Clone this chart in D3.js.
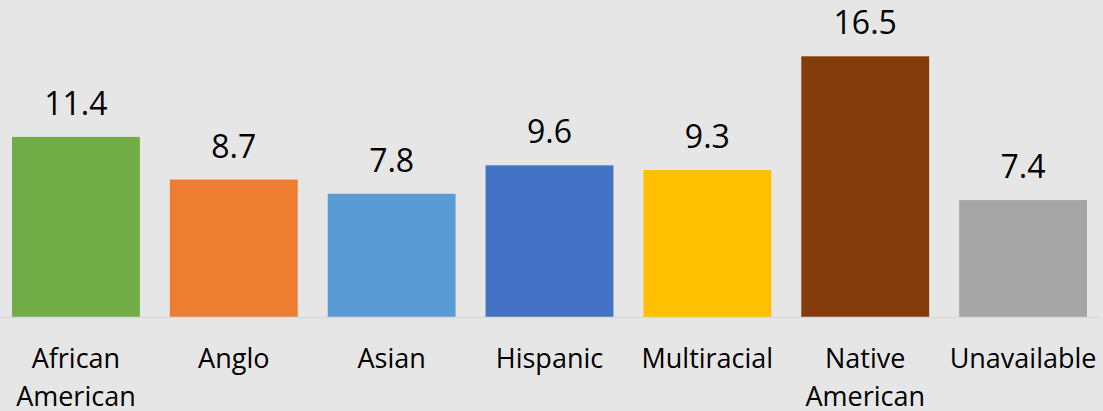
<!DOCTYPE html>
<html>
<head>
<meta charset="utf-8">
<script src="https://cdn.jsdelivr.net/npm/d3@7"></script>
<style>
  html, body { margin: 0; padding: 0; background: #e7e6e6; }
  svg { display: block; }
  text { font-family: Carlito, Calibri, "Open Sans", sans-serif; fill: #000; }
</style>
</head>
<body>
<svg id="chart" width="1103" height="411"></svg>
<script>
const categories = ["African American", "Anglo", "Asian", "Hispanic", "Multiracial", "Native American", "Unavailable"];
const values = [11.4, 8.7, 7.8, 9.6, 9.3, 16.5, 7.4];
const colors = ["#70ad47", "#ed7d31", "#5b9bd5", "#4472c4", "#ffc000", "#843c0c", "#a5a5a5"];

const W = 1103, H = 411;
const svg = d3.select("#chart");
svg.append("rect").attr("width", W).attr("height", H).attr("fill", "#e7e6e6");

const x = d3.scaleBand()
  .domain(categories)
  .range([-3, 1102])
  .paddingInner(0.19)
  .paddingOuter(0.095);

const y = d3.scaleLinear().domain([0, 20]).range([317, 1]);

const data = categories.map((c, i) => ({ c, v: values[i], color: colors[i] }));

svg.selectAll("rect.bar").data(data).enter().append("rect")
  .attr("class", "bar")
  .attr("x", d => x(d.c))
  .attr("width", x.bandwidth())
  .attr("y", d => y(d.v))
  .attr("height", d => y(0) - y(d.v))
  .attr("fill", d => d.color);

// axis baseline
svg.append("line")
  .attr("x1", 0).attr("x2", 1101)
  .attr("y1", y(0) + 0.5).attr("y2", y(0) + 0.5)
  .attr("stroke", "#d9d9d9").attr("stroke-width", 1.5);

// value labels
svg.selectAll("text.val").data(data).enter().append("text")
  .attr("class", "val")
  .attr("x", d => x(d.c) + x.bandwidth() / 2)
  .attr("y", d => y(d.v) - 22)
  .attr("text-anchor", "middle")
  .style("font-family", "'Open Sans', sans-serif")
  .style("font-size", "32px")
  .text(d => d.v.toFixed(1));

// category labels
const cat = svg.selectAll("text.cat").data(data).enter().append("text")
  .attr("class", "cat")
  .attr("text-anchor", "middle")
  .style("font-family", "'Open Sans', sans-serif")
  .style("font-size", "27px");
cat.each(function(d) {
  const words = d.c.split(" ");
  const t = d3.select(this);
  const cx = x(d.c) + x.bandwidth() / 2;
  words.forEach((w, i) => {
    t.append("tspan").attr("x", cx).attr("y", 368 + i * 37.5).text(w);
  });
});
</script>
</body>
</html>
